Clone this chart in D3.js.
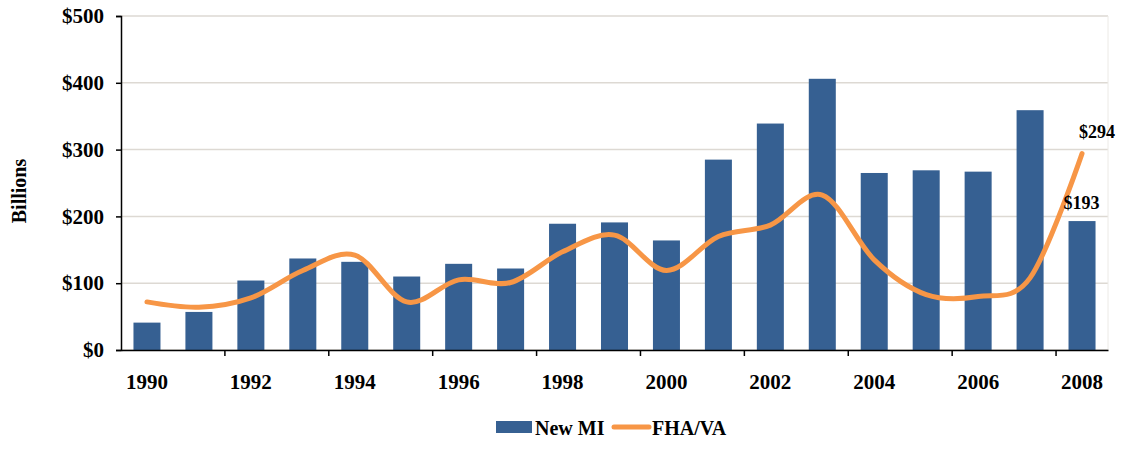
<!DOCTYPE html>
<html>
<head>
<meta charset="utf-8">
<script src="https://cdn.jsdelivr.net/npm/d3@7"></script>
<style>
  body { margin: 0; background: #fff; }
  text { font-family: "Liberation Serif", "Times New Roman", serif; font-weight: bold; fill: #000; }
</style>
</head>
<body>
<div id="container"></div>
<script>
const years = ["1990","1991","1992","1993","1994","1995","1996","1997","1998","1999",
               "2000","2001","2002","2003","2004","2005","2006","2007","2008"]
const newMI = [41, 57, 104, 137, 132, 110, 129, 122, 189, 191, 164, 285, 339, 406, 265, 269, 267, 359, 193]
const fhaVA = [72, 64, 78, 119, 142, 72, 105, 101, 147, 172, 119, 170, 187, 232, 135, 83, 80, 108, 294]
const yTicks = [0, 100, 200, 300, 400, 500]
const xLabels = ["1990","1992","1994","1996","1998","2000","2002","2004","2006","2008"]

const width = 1124
const height = 449
const margin = {top: 16, right: 16, bottom: 99, left: 121}

const barColor = "#366092"
const lineColor = "#F79646"
const gridColor = "#DDD9D3"

const svg = d3.create("svg")
    .attr("width", width)
    .attr("height", height)

const x = d3.scaleBand()
    .domain(years)
    .range([margin.left, width - margin.right])
    .paddingInner(0.48)
    .paddingOuter(0.24)

const y = d3.scaleLinear()
    .domain([0, 500])
    .range([height - margin.bottom, margin.top])

// grid
svg.append("g")
    .selectAll("line")
    .data(yTicks)
    .join("line")
    .attr("x1", margin.left)
    .attr("x2", width - margin.right)
    .attr("y1", d => y(d))
    .attr("y2", d => y(d))
    .attr("stroke", gridColor)
    .attr("stroke-width", 1.5)

svg.append("line")
    .attr("x1", width - margin.right)
    .attr("x2", width - margin.right)
    .attr("y1", margin.top)
    .attr("y2", height - margin.bottom)
    .attr("stroke", "#ECEAE6")
    .attr("stroke-width", 1)

// bars
svg.append("g")
    .selectAll("rect")
    .data(newMI)
    .join("rect")
    .attr("x", (d, i) => x(years[i]))
    .attr("y", d => y(d))
    .attr("width", x.bandwidth())
    .attr("height", d => y(0) - y(d))
    .attr("fill", barColor)

// line, smoothed like the spreadsheet original
const line = d3.line()
    .x((d, i) => x(years[i]) + x.bandwidth() / 2)
    .y(d => y(d))
    .curve(d3.curveCardinal.tension(0))

svg.append("path")
    .datum(fhaVA)
    .attr("d", line)
    .attr("fill", "none")
    .attr("stroke", lineColor)
    .attr("stroke-width", 5)
    .attr("stroke-linecap", "round")

// y axis
const yAxis = svg.append("g")
    .attr("transform", `translate(${margin.left},0)`)
    .call(d3.axisLeft(y).tickValues(yTicks).tickFormat(d => "$" + d).tickSize(5).tickPadding(12))
yAxis.select(".domain").attr("stroke", "#000").attr("stroke-width", 1.5)
yAxis.selectAll(".tick line").attr("stroke", "#000").attr("stroke-width", 1.5)
yAxis.selectAll("text").attr("font-size", 21).style("font-family", null)

// x axis
const xAxis = svg.append("g")
    .attr("transform", `translate(0,${y(0)})`)
    .call(d3.axisBottom(x).tickValues(xLabels).tickSize(0).tickPadding(24).tickSizeOuter(0))
xAxis.select(".domain").attr("stroke", "#000").attr("stroke-width", 1.5)
xAxis.selectAll("text").attr("font-size", 21).style("font-family", null)

// x tick marks at every other category boundary
svg.append("g")
    .selectAll("line")
    .data(years.filter((d, i) => i % 2 === 0 && i > 0))
    .join("line")
    .attr("x1", d => x(d) - x.step() * x.paddingInner() / 2)
    .attr("x2", d => x(d) - x.step() * x.paddingInner() / 2)
    .attr("y1", y(0))
    .attr("y2", y(0) + 6)
    .attr("stroke", "#000")
    .attr("stroke-width", 1.5)

// y label
svg.append("text")
    .attr("transform", `translate(26,${(margin.top + height - margin.bottom) / 2 + 8}) rotate(-90)`)
    .attr("text-anchor", "middle")
    .attr("font-size", 20)
    .text("Billions")

// annotations for 2008
const last = years.length - 1
svg.append("text")
    .attr("x", x(years[last]) + x.bandwidth() / 2 - 3)
    .attr("y", y(fhaVA[last]) - 16)
    .attr("font-size", 18)
    .text("$" + fhaVA[last])

svg.append("text")
    .attr("x", x(years[last]) + x.bandwidth() + 4)
    .attr("y", y(newMI[last]) - 12)
    .attr("text-anchor", "end")
    .attr("font-size", 18)
    .text("$" + newMI[last])

// legend
const legend = svg.append("g")
    .attr("transform", `translate(496,${height - 14})`)

legend.append("rect")
    .attr("x", 0)
    .attr("y", -14)
    .attr("width", 36)
    .attr("height", 12)
    .attr("fill", barColor)

legend.append("text")
    .attr("x", 39)
    .attr("y", 0)
    .attr("font-size", 20)
    .text("New MI")

legend.append("line")
    .attr("x1", 118)
    .attr("x2", 153)
    .attr("y1", -8)
    .attr("y2", -8)
    .attr("stroke", lineColor)
    .attr("stroke-width", 5)
    .attr("stroke-linecap", "round")

legend.append("text")
    .attr("x", 156)
    .attr("y", 0)
    .attr("font-size", 20)
    .text("FHA/VA")

document.querySelector("#container").appendChild(svg.node())
</script>
</body>
</html>
